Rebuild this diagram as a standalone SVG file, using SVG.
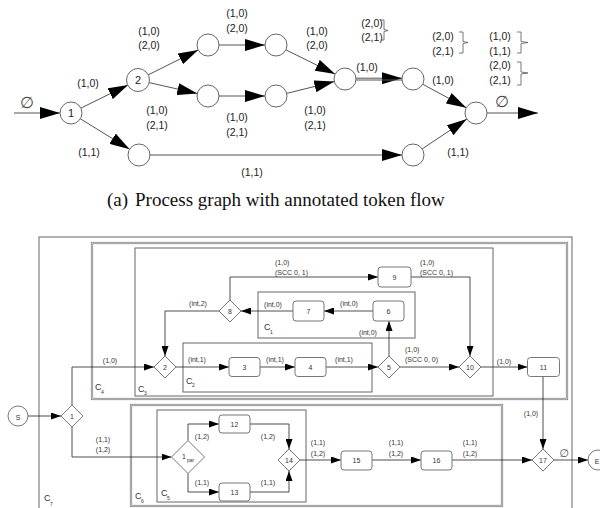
<svg xmlns="http://www.w3.org/2000/svg" width="600" height="508" viewBox="0 0 600 508">
<style>
.c{fill:#fff;stroke:#666;stroke-width:1}
.e{fill:none;stroke:#555;stroke-width:1}
.ea{fill:none;stroke:#555;stroke-width:1;marker-end:url(#A)}
.eb{fill:none;stroke:#222;stroke-width:0.8;marker-end:url(#B)}
.la{font-family:"Liberation Sans",Arial,sans-serif;font-size:10.5px;fill:#222;text-anchor:middle}
.na{font-family:"Liberation Sans",Arial,sans-serif;font-size:11px;fill:#222;text-anchor:middle}
.lb{font-family:"Liberation Sans",Arial,sans-serif;font-size:7px;fill:#333}
.lbm{font-family:"Liberation Sans",Arial,sans-serif;font-size:7px;fill:#333;text-anchor:middle}
.nb{font-family:"Liberation Sans",Arial,sans-serif;font-size:7px;fill:#333;text-anchor:middle}
.cl{font-family:"Liberation Sans",Arial,sans-serif;font-size:9px;fill:#333}
.cs{font-family:"Liberation Sans",Arial,sans-serif;font-size:5px;fill:#333}
.box{fill:none;stroke:#666;stroke-width:1}
.dbo{fill:none;stroke:#777;stroke-width:2.2}
.dbi{fill:none;stroke:#fff;stroke-width:0.7}
.r{fill:#fff;stroke:#777;stroke-width:1}
.d{fill:#fff;stroke:#777;stroke-width:1}
.es{font-family:"DejaVu Sans",sans-serif;fill:#444;text-anchor:middle}
.br{fill:none;stroke:#555;stroke-width:0.8}
.cap{font-family:"Liberation Serif","Times New Roman",serif;font-size:19px;fill:#111}
</style>
<defs>
<marker id="A" markerUnits="userSpaceOnUse" markerWidth="20" markerHeight="12" refX="20" refY="6" orient="auto"><path d="M0,0L20,6L0,12z" fill="#000"/></marker>
<marker id="B" markerUnits="userSpaceOnUse" markerWidth="10" markerHeight="7" refX="10" refY="3.5" orient="auto"><path d="M0,0L10,3.5L0,7z" fill="#000"/></marker>
</defs>

<!-- ===== Part (a) ===== -->
<g id="a-connectors">
<line class="ea" x1="14" y1="113" x2="60" y2="113"/>
<line class="ea" x1="80.9" y1="108.1" x2="128.1" y2="84.9"/>
<line class="ea" x1="80.4" y1="118.8" x2="129.6" y2="149.2"/>
<line class="ea" x1="147.8" y1="75.1" x2="198.2" y2="49.9"/>
<line class="ea" x1="148.7" y1="82.5" x2="197.3" y2="93.5"/>
<line class="ea" x1="219" y1="45" x2="265" y2="45"/>
<line class="ea" x1="219" y1="96" x2="265" y2="96"/>
<line class="ea" x1="285.9" y1="49.9" x2="335.1" y2="74.1"/>
<line class="ea" x1="286.7" y1="93.4" x2="334.3" y2="81.6"/>
<line class="ea" x1="356" y1="78.2" x2="402" y2="78.2"/>
<line class="e" x1="356" y1="80" x2="402" y2="80" stroke-width="0.8"/>
<line class="ea" x1="422.7" y1="84.2" x2="466.3" y2="107.8"/>
<line class="ea" x1="150" y1="155" x2="402" y2="155"/>
<line class="ea" x1="422.2" y1="148.9" x2="466.8" y2="119.1"/>
<line class="ea" x1="487" y1="113" x2="538" y2="113"/>
</g>
<g id="a-n1"><circle class="c" cx="71" cy="113" r="11"/><text class="na" x="71" y="117">1</text></g>
<g id="a-n2"><circle class="c" cx="138" cy="80" r="11.5"/><text class="na" x="138" y="84">2</text></g>
<g id="a-t1"><circle class="c" cx="208" cy="45" r="11"/></g>
<g id="a-t2"><circle class="c" cx="276" cy="45" r="11"/></g>
<g id="a-m1"><circle class="c" cx="208" cy="96" r="11"/></g>
<g id="a-m2"><circle class="c" cx="276" cy="96" r="11"/></g>
<g id="a-b1"><circle class="c" cx="139" cy="155" r="11"/></g>
<g id="a-j1"><circle class="c" cx="345" cy="79" r="11"/></g>
<g id="a-n3"><circle class="c" cx="413" cy="79" r="11"/></g>
<g id="a-b2"><circle class="c" cx="413" cy="155" r="11"/></g>
<g id="a-end"><circle class="c" cx="476" cy="113" r="11"/></g>

<g id="a-labels">
<text class="es" x="27" y="108" font-size="16">∅</text>
<text class="es" x="502" y="107" font-size="16">∅</text>
<text class="la" x="88" y="87">(1,0)</text>
<text class="la" x="149" y="35">(1,0)</text><text class="la" x="149" y="49">(2,0)</text>
<text class="la" x="237" y="17">(1,0)</text><text class="la" x="237" y="32">(2,0)</text>
<text class="la" x="157" y="114">(1,0)</text><text class="la" x="157" y="129">(2,1)</text>
<text class="la" x="237" y="121">(1,0)</text><text class="la" x="237" y="136">(2,1)</text>
<text class="la" x="89" y="156">(1,1)</text>
<text class="la" x="252" y="176">(1,1)</text>
<text class="la" x="317" y="35">(1,0)</text><text class="la" x="317" y="49">(2,0)</text>
<text class="la" x="315" y="114">(1,0)</text><text class="la" x="315" y="129">(2,1)</text>
<text class="la" x="372" y="27">(2,0)</text><text class="la" x="372" y="41">(2,1)</text>
<path class="br" d="M381,20H384V29.5L388,30.5L384,31.5V40H381"/>
<text class="la" x="367" y="71">(1,0)</text>
<text class="la" x="443" y="84">(1,0)</text>
<text class="la" x="443" y="40">(2,0)</text><text class="la" x="443" y="55">(2,1)</text>
<path class="br" d="M459,32H463V41.5L468,42.5L463,43.5V53H459"/>
<text class="la" x="500" y="40">(1,0)</text><text class="la" x="500" y="55">(1,1)</text>
<path class="br" d="M517,32H521V41.5L528,42.5L521,43.5V53H517"/>
<text class="la" x="500" y="69">(2,0)</text><text class="la" x="500" y="84">(2,1)</text>
<path class="br" d="M517,62H521V72L528,73L521,74V85H517"/>
<text class="la" x="458" y="156">(1,1)</text>
</g>
<g id="caption"><text class="cap" x="107" y="206">(a)</text><text class="cap" x="135" y="206">Process graph with annotated token flow</text></g>

<!-- ===== Part (b) ===== -->
<g id="containers">
<rect class="box" x="39" y="237" width="533" height="290"/>
<rect class="dbo" x="92" y="243" width="475" height="156"/><rect class="dbi" x="92" y="243" width="475" height="156"/>
<rect class="box" x="135" y="248" width="358" height="148"/>
<rect class="box" x="258" y="292" width="157" height="46"/>
<rect class="box" x="183" y="343" width="189" height="49"/>
<rect class="dbo" x="131" y="405" width="371" height="101"/><rect class="dbi" x="131" y="405" width="371" height="101"/>
<rect class="box" x="157" y="410" width="149" height="92"/>
<text class="cl" x="44" y="501">C</text><text class="cs" x="50" y="506">7</text>
<text class="cl" x="95" y="390">C</text><text class="cs" x="101" y="394">4</text>
<text class="cl" x="138" y="392">C</text><text class="cs" x="144" y="395">3</text>
<text class="cl" x="186" y="384">C</text><text class="cs" x="192" y="387">2</text>
<text class="cl" x="264" y="330">C</text><text class="cs" x="270" y="334">1</text>
<text class="cl" x="135" y="499">C</text><text class="cs" x="141" y="503">6</text>
<text class="cl" x="161" y="496">C</text><text class="cs" x="167" y="500">5</text>
</g>

<g id="b-connectors">
<line class="eb" x1="28" y1="416" x2="61" y2="416"/>
<path class="eb" d="M72,405V367H154"/>
<path class="eb" d="M72,427V457H171.5"/>
<path class="eb" d="M176,367H229"/>
<path class="eb" d="M260,367H295"/>
<path class="eb" d="M326,367H378"/>
<path class="eb" d="M400,367H459"/>
<path class="eb" d="M481,367H527.5"/>
<path class="eb" d="M389,356V321"/>
<path class="eb" d="M373,311H324"/>
<path class="eb" d="M293,311H241"/>
<path class="eb" d="M219,311H165V356"/>
<path class="eb" d="M230,300V277H378"/>
<path class="eb" d="M411,277H470V356"/>
<path class="eb" d="M543,377V449"/>
<path class="eb" d="M188,440.5V424H219"/>
<path class="eb" d="M188,473.5V492H219"/>
<path class="eb" d="M250,424H289V449"/>
<path class="eb" d="M250,492H289V471"/>
<path class="eb" d="M300,460H341"/>
<path class="eb" d="M372,460H421"/>
<path class="eb" d="M452,460H532"/>
<path class="eb" d="M554,460H588"/>
</g>

<g id="b-labels">
<text class="lbm" x="110" y="362.5">(1,0)</text>
<text class="lbm" x="103" y="441.5">(1,1)</text><text class="lbm" x="103" y="451.5">(1,2)</text>
<text class="lbm" x="197" y="361.5">(int,1)</text>
<text class="lbm" x="275" y="361.5">(int,1)</text>
<text class="lbm" x="344" y="361.5">(int,1)</text>
<text class="lbm" x="198" y="305.5">(int,2)</text>
<text class="lbm" x="273" y="306.5">(int,0)</text>
<text class="lbm" x="349" y="305.5">(int,0)</text>
<text class="lbm" x="368" y="334.5">(int,0)</text>
<text class="lb" x="275" y="264.5">(1,0)</text><text class="lb" x="275" y="274.5">(SCC 0, 1)</text>
<text class="lb" x="420" y="264.5">(1,0)</text><text class="lb" x="420" y="274.5">(SCC 0, 1)</text>
<text class="lb" x="405" y="351.5">(1,0)</text><text class="lb" x="405" y="361.5">(SCC 0, 0)</text>
<text class="lbm" x="504" y="363.5">(1,0)</text>
<text class="lbm" x="531" y="415.5">(1,0)</text>
<text class="lbm" x="202" y="439">(1,2)</text>
<text class="lbm" x="268" y="439">(1,2)</text>
<text class="lbm" x="202" y="484.5">(1,1)</text>
<text class="lbm" x="268" y="484.5">(1,1)</text>
<text class="lbm" x="318" y="444.5">(1,1)</text><text class="lbm" x="318" y="455.5">(1,2)</text>
<text class="lbm" x="396" y="444.5">(1,1)</text><text class="lbm" x="396" y="455.5">(1,2)</text>
<text class="lbm" x="470" y="444.5">(1,1)</text><text class="lbm" x="470" y="455.5">(1,2)</text>
<text class="es" x="564" y="457" font-size="11">∅</text>
</g>

<g id="b-S"><circle class="r" cx="18" cy="416" r="10"/><text class="nb" x="18" y="419.5" font-size="9">S</text></g>
<g id="b-E"><circle class="r" cx="598" cy="460" r="10"/><text class="nb" x="597" y="463.5" font-size="10">E</text></g>
<g id="b-1"><path class="d" d="M72,405L83,416L72,427L61,416z"/><text class="nb" x="72" y="418.5">1</text></g>
<g id="b-2"><path class="d" d="M165,356L176,367L165,378L154,367z"/><text class="nb" x="165" y="369.5">2</text></g>
<g id="b-3"><rect class="r" x="229" y="357.5" width="31" height="19" rx="3"/><text class="nb" x="244.5" y="369.5">3</text></g>
<g id="b-4"><rect class="r" x="295" y="357.5" width="31" height="19" rx="3"/><text class="nb" x="310.5" y="369.5">4</text></g>
<g id="b-5"><path class="d" d="M389,356L400,367L389,378L378,367z"/><text class="nb" x="389" y="369.5">5</text></g>
<g id="b-6"><rect class="r" x="373" y="301" width="31" height="20" rx="3"/><text class="nb" x="388.5" y="313.5">6</text></g>
<g id="b-7"><rect class="r" x="293" y="301" width="31" height="20" rx="3"/><text class="nb" x="308.5" y="313.5">7</text></g>
<g id="b-8"><path class="d" d="M230,300L241,311L230,322L219,311z"/><text class="nb" x="230" y="313.5">8</text></g>
<g id="b-9"><rect class="r" x="378" y="267" width="33" height="20" rx="3"/><text class="nb" x="394.5" y="279.5">9</text></g>
<g id="b-10"><path class="d" d="M470,356L481,367L470,378L459,367z"/><text class="nb" x="470" y="369.5">10</text></g>
<g id="b-11"><rect class="r" x="527.5" y="357.5" width="32" height="19" rx="3"/><text class="nb" x="543.5" y="369.5">11</text></g>
<g id="b-1par"><path class="d" d="M188,440.5L204.5,457L188,473.5L171.5,457z"/><text class="nb" x="184" y="459">1</text><text class="cs" x="187" y="462" font-size="4.5">par</text></g>
<g id="b-12"><rect class="r" x="219" y="415" width="31" height="18" rx="3"/><text class="nb" x="234.5" y="426.5">12</text></g>
<g id="b-13"><rect class="r" x="219" y="483" width="31" height="18" rx="3"/><text class="nb" x="234.5" y="494.5">13</text></g>
<g id="b-14"><path class="d" d="M289,449L300,460L289,471L278,460z"/><text class="nb" x="289" y="462.5">14</text></g>
<g id="b-15"><rect class="r" x="341" y="451" width="31" height="19" rx="3"/><text class="nb" x="356.5" y="463">15</text></g>
<g id="b-16"><rect class="r" x="421" y="451" width="31" height="19" rx="3"/><text class="nb" x="436.5" y="463">16</text></g>
<g id="b-17"><path class="d" d="M543,449L554,460L543,471L532,460z"/><text class="nb" x="543" y="462.5">17</text></g>
</svg>
